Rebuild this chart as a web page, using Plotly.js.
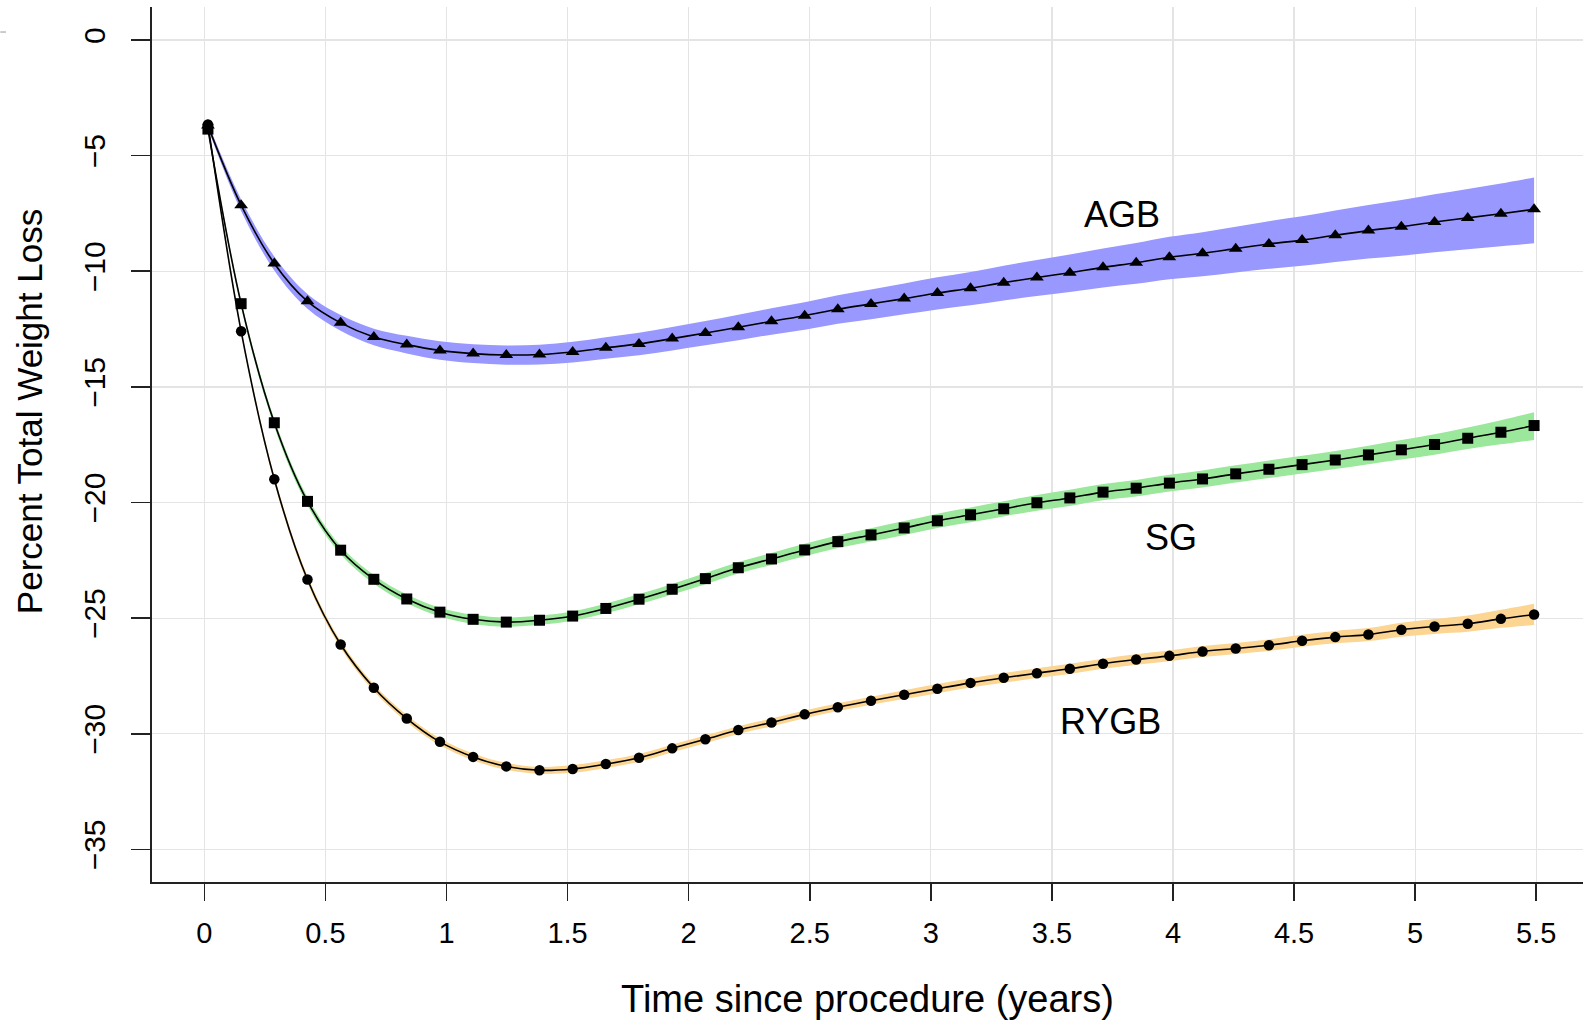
<!DOCTYPE html>
<html>
<head>
<meta charset="utf-8">
<script src="https://cdn.plot.ly/plotly-3.0.1.min.js"></script>
<style>html,body{margin:0;padding:0;background:#fff;}#chart{width:1583px;height:1020px;}</style>
</head>
<body>
<div id="chart"></div>
<script>
// Time since procedure (years) at each marker
const years = [0.015,0.152,0.289,0.426,0.563,0.700,0.836,0.973,1.110,1.247,1.384,1.521,1.658,1.795,1.932,2.069,2.205,2.342,2.479,2.616,2.753,2.890,3.027,3.164,3.301,3.438,3.574,3.711,3.848,3.985,4.122,4.259,4.396,4.533,4.670,4.807,4.943,5.080,5.217,5.354,5.491];

// AGB
const agb = [-3.70,-7.14,-9.66,-11.30,-12.23,-12.84,-13.17,-13.42,-13.56,-13.62,-13.60,-13.49,-13.31,-13.14,-12.91,-12.67,-12.42,-12.16,-11.92,-11.64,-11.41,-11.18,-10.94,-10.73,-10.49,-10.27,-10.06,-9.83,-9.63,-9.39,-9.22,-9.02,-8.82,-8.65,-8.44,-8.24,-8.07,-7.87,-7.69,-7.51,-7.32];
const agbUpper = [-3.58,-6.89,-9.36,-10.98,-11.89,-12.48,-12.79,-13.03,-13.16,-13.21,-13.18,-13.05,-12.85,-12.66,-12.41,-12.15,-11.88,-11.60,-11.34,-11.04,-10.79,-10.53,-10.26,-10.03,-9.76,-9.51,-9.27,-9.01,-8.78,-8.51,-8.31,-8.07,-7.83,-7.62,-7.37,-7.13,-6.92,-6.67,-6.44,-6.20,-5.94];
const agbLower = [-3.82,-7.39,-9.96,-11.62,-12.57,-13.20,-13.55,-13.82,-13.97,-14.04,-14.03,-13.94,-13.78,-13.63,-13.42,-13.20,-12.98,-12.74,-12.53,-12.27,-12.07,-11.86,-11.65,-11.47,-11.26,-11.07,-10.89,-10.70,-10.54,-10.34,-10.21,-10.05,-9.89,-9.76,-9.60,-9.45,-9.33,-9.18,-9.05,-8.92,-8.79];

// SG
const sg = [-3.85,-11.40,-16.55,-19.95,-22.06,-23.32,-24.17,-24.74,-25.05,-25.17,-25.09,-24.91,-24.58,-24.18,-23.75,-23.29,-22.82,-22.44,-22.05,-21.69,-21.40,-21.10,-20.79,-20.53,-20.27,-20.01,-19.80,-19.55,-19.38,-19.16,-18.98,-18.76,-18.56,-18.36,-18.16,-17.94,-17.72,-17.49,-17.22,-16.96,-16.67];
const sgUpper = [-3.77,-11.25,-16.38,-19.77,-21.88,-23.13,-23.98,-24.55,-24.85,-24.97,-24.89,-24.71,-24.37,-23.96,-23.52,-23.05,-22.57,-22.18,-21.78,-21.41,-21.11,-20.80,-20.48,-20.21,-19.94,-19.67,-19.45,-19.20,-19.02,-18.80,-18.61,-18.39,-18.18,-17.98,-17.77,-17.54,-17.30,-17.05,-16.75,-16.44,-16.10];
const sgLower = [-3.93,-11.55,-16.72,-20.13,-22.24,-23.51,-24.36,-24.93,-25.25,-25.37,-25.29,-25.11,-24.79,-24.40,-23.98,-23.53,-23.07,-22.70,-22.32,-21.97,-21.69,-21.40,-21.10,-20.85,-20.60,-20.35,-20.15,-19.90,-19.74,-19.52,-19.35,-19.13,-18.94,-18.74,-18.55,-18.34,-18.14,-17.93,-17.69,-17.48,-17.29];

// RYGB
const rygb = [-3.65,-12.59,-18.99,-23.33,-26.14,-28.01,-29.34,-30.35,-31.00,-31.41,-31.58,-31.52,-31.31,-31.04,-30.63,-30.24,-29.84,-29.51,-29.16,-28.85,-28.57,-28.31,-28.05,-27.80,-27.58,-27.38,-27.19,-26.97,-26.79,-26.63,-26.44,-26.31,-26.17,-25.98,-25.82,-25.71,-25.50,-25.36,-25.24,-25.03,-24.84];
const rygbUpper = [-3.57,-12.47,-18.84,-23.18,-25.99,-27.86,-29.19,-30.20,-30.85,-31.26,-31.43,-31.35,-31.14,-30.87,-30.46,-30.07,-29.67,-29.34,-28.99,-28.68,-28.40,-28.12,-27.85,-27.60,-27.37,-27.17,-26.97,-26.75,-26.56,-26.40,-26.20,-26.07,-25.92,-25.72,-25.55,-25.43,-25.20,-25.04,-24.89,-24.64,-24.38];
const rygbLower = [-3.73,-12.71,-19.14,-23.48,-26.29,-28.16,-29.49,-30.50,-31.15,-31.56,-31.73,-31.69,-31.48,-31.21,-30.80,-30.41,-30.01,-29.68,-29.33,-29.02,-28.74,-28.50,-28.25,-28.00,-27.79,-27.59,-27.41,-27.19,-27.02,-26.86,-26.68,-26.55,-26.42,-26.24,-26.09,-25.99,-25.80,-25.68,-25.59,-25.42,-25.30];

const groupLabels = ['AGB', 'SG', 'RYGB'];
const labelX = [3.79, 3.99, 3.74];
const labelY = [-7.54, -21.52, -29.46];

const xTickVals = [0,0.5,1,1.5,2,2.5,3,3.5,4,4.5,5,5.5];
const yTickVals = [0,-5,-10,-15,-20,-25,-30,-35];

const FONT = 'Liberation Sans, Arial, Helvetica, sans-serif';

function band(lower, upper, color, name) {
  return [
    {x: years, y: lower, mode: 'lines', line: {width: 0, shape: 'spline'}, hoverinfo: 'skip', showlegend: false, name: name + ' lower'},
    {x: years, y: upper, mode: 'lines', line: {width: 0, shape: 'spline'}, fill: 'tonexty', fillcolor: color, hoverinfo: 'skip', showlegend: false, name: name + ' upper'}
  ];
}
function curve(vals, symbol, size, name) {
  return {x: years, y: vals, mode: 'lines+markers', name: name, showlegend: false,
    line: {color: '#000', width: 1.6, shape: 'spline'},
    marker: {symbol: symbol, size: size, color: '#000', line: {width: 0}}};
}

const data = [
  ...band(agbLower, agbUpper, '#9898ff', 'AGB'),
  ...band(sgLower, sgUpper, '#9be79b', 'SG'),
  ...band(rygbLower, rygbUpper, '#fbd591', 'RYGB'),
  curve(agb, 'triangle-up', 12, 'AGB'),
  curve(sg, 'square', 11, 'SG'),
  curve(rygb, 'circle', 10.5, 'RYGB')
];

const annotations = groupLabels.map((t, i) => ({
  x: labelX[i], y: labelY[i], xref: 'x', yref: 'y', text: t, showarrow: false,
  xanchor: 'center', yanchor: 'middle', font: {family: FONT, size: 36, color: '#000'}
}));
annotations.push({
  x: -0.0857, y: 0.5374, xref: 'paper', yref: 'paper', text: 'Percent Total Weight Loss',
  textangle: -90, showarrow: false, xanchor: 'center', yanchor: 'middle',
  font: {family: FONT, size: 35, color: '#000'}
});

const layout = {
  width: 1583, height: 1020,
  margin: {l: 152, r: 0, t: 7, b: 138, pad: 0},
  paper_bgcolor: '#fff', plot_bgcolor: '#fff',
  showlegend: false,
  font: {family: FONT, color: '#000'},
  xaxis: {
    range: [-0.216, 5.693], tickvals: xTickVals, ticktext: xTickVals.map(String),
    showgrid: true, gridcolor: '#e4e4e4', gridwidth: 1.2, zeroline: false,
    showline: true, linecolor: '#222', linewidth: 1.6,
    ticks: 'outside', ticklen: 17, tickwidth: 1.6, tickcolor: '#222',
    ticklabelstandoff: 8,
    tickfont: {family: FONT, size: 29, color: '#000'},
    automargin: false,
    title: {text: 'Time since procedure (years)', font: {family: FONT, size: 38, color: '#000'}, standoff: 48}
  },
  yaxis: {
    range: [-36.41, 1.43], tickvals: yTickVals,
    showgrid: true, gridcolor: '#e4e4e4', gridwidth: 1.2, zeroline: false,
    showline: true, linecolor: '#222', linewidth: 1.6,
    ticks: 'outside', ticklen: 19, tickwidth: 1.6, tickcolor: '#222',
    tickangle: -90, ticklabelstandoff: 14,
    tickfont: {family: FONT, size: 30, color: '#000'},
    automargin: false
  },
  annotations: annotations,
  shapes: [{type: 'line', xref: 'paper', yref: 'paper', x0: -0.106, x1: -0.102, y0: 0.9714, y1: 0.9714, line: {color: '#bbbbbb', width: 1.5}}]
};

Plotly.newPlot('chart', data, layout, {staticPlot: true, displayModeBar: false});
</script>
</body>
</html>
